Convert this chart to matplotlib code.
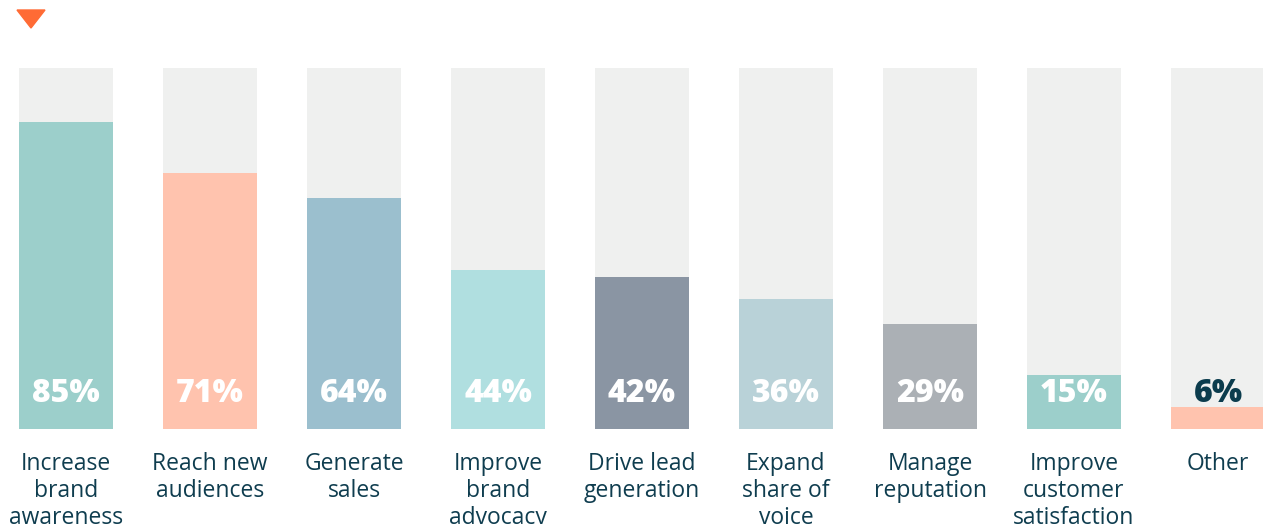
import matplotlib.pyplot as plt
import numpy as np
from matplotlib.patches import Polygon

# data
labels = ['Increase\nbrand\nawareness', 'Reach new\naudiences', 'Generate\nsales',
          'Improve\nbrand\nadvocacy', 'Drive lead\ngeneration', 'Expand\nshare of\nvoice',
          'Manage\nreputation', 'Improve\ncustomer\nsatisfaction', 'Other']
values = [85, 71, 64, 44, 42, 36, 29, 15, 6]
colors = ['#9CCFCB', '#FFC3AE', '#9BBFCE', '#B0DFE0', '#8A95A3',
          '#B9D2D8', '#ABB0B5', '#9CCFCB', '#FFC3AE']

plt.rcParams['font.family'] = ['Open Sans', 'DejaVu Sans']

W, H = 1263, 524
fig = plt.figure(figsize=(W / 100, H / 100), dpi=100)
ax = fig.add_axes([0, 0, 1, 1])

# pixel layout: bar centres at 66 + 144*i, value 0 at y=429, 100 at y=68
pitch = 144
x0 = 66
ppu = 3.61
base = 95
ax.set_xlim(-x0 / pitch, (W - x0) / pitch)
ax.set_ylim(-base / ppu, (H - base) / ppu)
ax.axis('off')

x = np.arange(len(values))
width = 94 / pitch
ax.bar(x, [100] * len(values), width, color='#EFF0EF')
ax.bar(x, values, width, color=colors)

for i, v in enumerate(values):
    c = '#0B3C4D' if v < 10 else 'white'
    ax.text(i, 9.6, f'{v}%', ha='center', va='center', fontsize=23,
            fontweight='heavy', color=c)
    ax.text(i, -6.3, labels[i], ha='center', va='top', fontsize=16.5,
            color='#0F3D4F', linespacing=1.16)

# small orange marker at top-left
tx = (31 - x0) / pitch
hw = 14 / pitch
ty_top = (H - 10 - base) / ppu
ty_bot = (H - 28 - base) / ppu
ax.add_patch(Polygon([[tx - hw, ty_top], [tx + hw, ty_top], [tx, ty_bot]],
                     closed=True, color='#FF6B35', clip_on=False))

fig.savefig('out.png', dpi=100)
